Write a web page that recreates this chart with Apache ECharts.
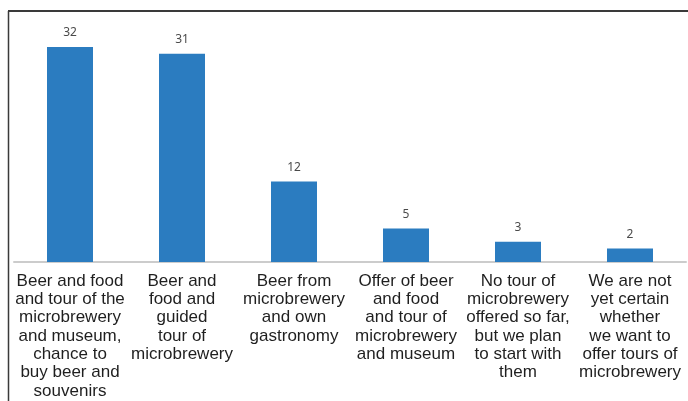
<!DOCTYPE html>
<html>
<head>
<meta charset="utf-8">
<script src="https://cdn.jsdelivr.net/npm/echarts@6/dist/echarts.min.js"></script>
<style>
  html, body { margin: 0; padding: 0; background: #fff; }
  #chart { width: 688px; height: 401px; }
</style>
</head>
<body>
<div id="chart"></div>
<script>
// Survey answers: kind of tour offered by microbreweries
const categories = [
  'Beer and food\nand tour of the\nmicrobrewery\nand museum,\nchance to\nbuy beer and\nsouvenirs',
  'Beer and\nfood and\nguided\ntour of\nmicrobrewery',
  'Beer from\nmicrobrewery\nand own\ngastronomy',
  'Offer of beer\nand food\nand tour of\nmicrobrewery\nand museum',
  'No tour of\nmicrobrewery\noffered so far,\nbut we plan\nto start with\nthem',
  'We are not\nyet certain\nwhether\nwe want to\noffer tours of\nmicrobrewery'
];
const counts = [32, 31, 12, 5, 3, 2];

const chart = echarts.init(document.getElementById('chart'));
chart.setOption({
  animation: false,
  backgroundColor: '#ffffff',
  grid: { left: 14, right: 2, top: 47, bottom: 139 },
  graphic: [
    { type: 'line', shape: { x1: 8.5, y1: 11, x2: 8.5, y2: 401 },
      style: { stroke: '#3a3a3a', lineWidth: 1.5 } },
    { type: 'line', shape: { x1: 8, y1: 11, x2: 688, y2: 11 },
      style: { stroke: '#3a3a3a', lineWidth: 2 } }
  ],
  xAxis: {
    type: 'category',
    data: categories,
    axisTick: { show: false },
    axisLine: { show: true, lineStyle: { color: '#cccccc', width: 2 } },
    axisLabel: {
      interval: 0,
      margin: 10,
      fontFamily: 'Liberation Sans, Arial, sans-serif',
      fontSize: 17,
      lineHeight: 18.3,
      color: '#1f1f1f',
      align: 'center'
    }
  },
  yAxis: {
    type: 'value',
    min: 0,
    max: 32,
    show: false
  },
  series: [{
    type: 'bar',
    data: counts,
    barWidth: 46,
    itemStyle: { color: '#2b7cc0' },
    label: {
      show: true,
      position: 'top',
      distance: 8,
      fontFamily: 'Noto Sans, sans-serif',
      fontSize: 12,
      color: '#4a4a4a'
    }
  }]
});
</script>
</body>
</html>
